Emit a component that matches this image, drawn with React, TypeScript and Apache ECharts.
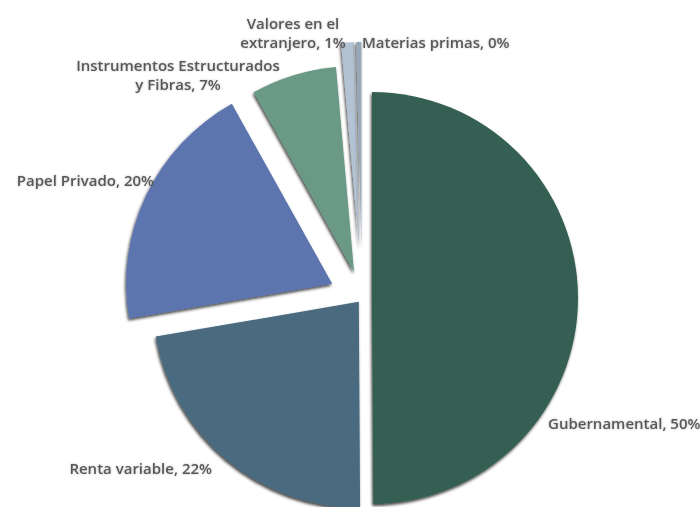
import React, { useEffect, useRef } from "react";
import * as echarts from "echarts";

const categories = [
  "Gubernamental",
  "Renta variable",
  "Papel Privado",
  "Instrumentos Estructurados y Fibras",
  "Valores en el extranjero",
  "Materias primas",
];
const values = [49.9, 22.4, 19.6, 6.7, 1.0, 0.4];
const colors = ["#355f52", "#486a7f", "#5b74ae", "#6a9a85", "#b4c3d3", "#97a7b8"];

const lineBreaks: Record<string, string> = {
  "Instrumentos Estructurados y Fibras": "Instrumentos Estructurados\ny Fibras",
  "Valores en el extranjero": "Valores en el\nextranjero",
};

// layout (not data)
const explode = [10, 5, 33, 27, 50, 50];
const labelPos = [
  { x: 548, y: 423, align: "left" },
  { x: 212, y: 468, align: "right" },
  { x: 154, y: 180, align: "right" },
  { x: 178, y: 74, align: "center" },
  { x: 293, y: 32, align: "center" },
  { x: 362, y: 42, align: "left" },
];

export default function App() {
  const ref = useRef<HTMLDivElement>(null);
  useEffect(() => {
    if (!ref.current) return;
    const chart = echarts.init(ref.current, undefined, { renderer: "svg" });
    const total = values.reduce((a, b) => a + b, 0);
    const shadow = {
      shadowBlur: 3,
      shadowColor: "rgba(0,0,0,0.75)",
      shadowOffsetX: -1,
      shadowOffsetY: 2,
    };
    const series = categories.map((_, i) => ({
      type: "pie",
      center: [362, 298],
      radius: [0, 206],
      startAngle: 90,
      clockwise: true,
      selectedMode: "multiple",
      selectedOffset: explode[i],
      silent: true,
      emphasis: { disabled: true },
      z: 2 + i,
      label: { show: false },
      labelLine: { show: false },
      data: categories.map((name, j) => ({
        name,
        value: values[j],
        selected: j === i,
        itemStyle:
          j === i
            ? { color: colors[j], ...shadow }
            : { color: "rgba(0,0,0,0)", borderWidth: 0 },
        select: {
          itemStyle:
            j === i
              ? { color: colors[j], borderWidth: 0, ...shadow }
              : { color: "rgba(0,0,0,0)", borderWidth: 0 },
        },
      })),
    }));
    const labels = categories.map((name, i) => ({
      type: "text",
      x: labelPos[i].x,
      y: labelPos[i].y,
      z: 100,
      style: {
        text: `${lineBreaks[name] ?? name}, ${Math.round((values[i] / total) * 100)}%`,
        align: labelPos[i].align,
        verticalAlign: "middle",
        fontFamily: "'Open Sans', sans-serif",
        fontSize: 15,
        fontWeight: 600,
        fill: "#595959",
        lineHeight: 19,
        textShadowColor: "rgba(0,0,0,0.25)",
        textShadowBlur: 2,
      },
    }));
    chart.setOption({
      animation: false,
      backgroundColor: "#ffffff",
      series,
      graphic: labels,
    });
    return () => chart.dispose();
  }, []);
  return (
    <div
      ref={ref}
      style={{ position: "absolute", left: 0, top: 0, width: 700, height: 507 }}
    />
  );
}
